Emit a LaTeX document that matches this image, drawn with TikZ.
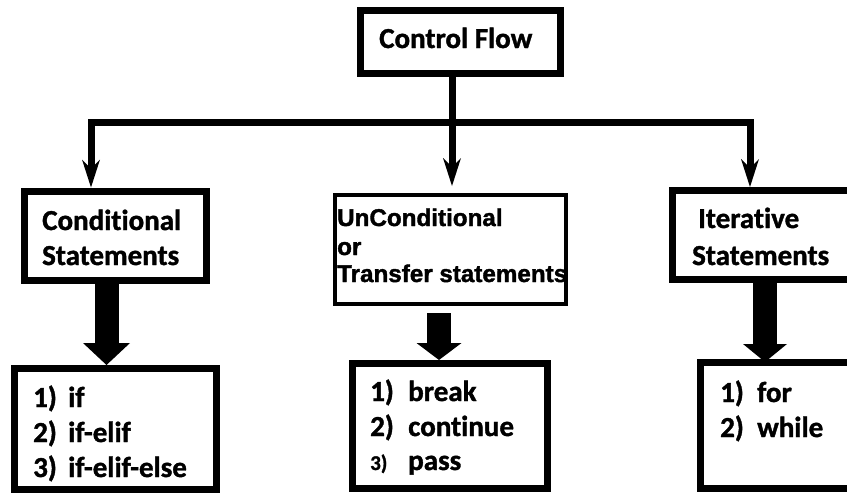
\documentclass[tikz,border=0pt]{standalone}
\usepackage{fontspec}
\setmainfont{Carlito}[Ligatures=NoCommon,BoldFeatures={FakeBold=1.3}]
\newfontfamily\transfont{Liberation Sans}[BoldFeatures={FakeBold=1.6}]
\usetikzlibrary{arrows.meta}
\begin{document}
\begin{tikzpicture}[x=1pt,y=-1pt,
  box/.style={draw,rectangle,line width=7pt,inner sep=0pt},
  wire/.style={line width=7pt},
  wirearrow/.style={line width=7pt,-{Stealth[length=28pt,width=18pt,inset=9pt,line width=0pt]}},
  lbl/.style={anchor=base west,inner sep=0pt,font=\fontsize{29}{35}\selectfont\bfseries},
  tlbl/.style={anchor=base west,inner sep=0pt,font=\transfont\fontsize{24.2}{28}\selectfont\bfseries}]
\useasboundingbox (0,0) rectangle (847,493);
\clip (0,0) rectangle (847,493);

% boxes
\node[box,minimum width=200pt,minimum height=63pt] (root) at (460.5,42) {};
\node[box,minimum width=182pt,minimum height=89pt] (cond) at (115.5,235.5) {};
\node[box,line width=4pt,minimum width=231pt,minimum height=109pt] (uncond) at (450.5,249.5) {};
\node[box,minimum width=207pt,minimum height=89pt] (iter) at (776,235) {};
\node[box,minimum width=202pt,minimum height=121pt] (condL) at (115.5,429) {};
\node[box,minimum width=195pt,minimum height=125pt] (uncondL) at (450,426) {};
\node[box,minimum width=179pt,minimum height=126pt] (iterL) at (790,425.5) {};

% labels
\node[lbl] (rootT) at (379,48) {Control Flow};
\node[lbl] (condT1) at (42,230) {Conditional};
\node[lbl] (condT2) at (42,265) {Statements};
\node[lbl] (iterT1) at (698,228) {Iterative};
\node[lbl] (iterT2) at (692,265) {Statements};
\node[tlbl] (uncondT1) at (337,226) {UnConditional};
\node[tlbl] (uncondT2) at (337,255) {or};
\node[tlbl] (uncondT3) at (337,282) {Transfer statements};

\node[lbl] (condI1) at (33,407) {\makebox[35pt][l]{1)}if};
\node[lbl] (condI2) at (33,442) {\makebox[35pt][l]{2)}if-elif};
\node[lbl] (condI3) at (33,477) {\makebox[35pt][l]{3)}if-elif-else};

\node[lbl] (uncondI1) at (370,401) {\makebox[38pt][l]{1)}break};
\node[lbl] (uncondI2) at (370,436) {\makebox[38pt][l]{2)}continue};
\node[lbl] (uncondI3) at (370,470) {\makebox[38pt][l]{\fontsize{21}{21}\selectfont 3)}pass};

\node[lbl] (iterI1) at (720,402) {\makebox[37pt][l]{1)}for};
\node[lbl] (iterI2) at (720,437) {\makebox[37pt][l]{2)}while};

% branching connectors
\coordinate (busL) at (91,122);
\coordinate (busM) at (452,122);
\coordinate (busR) at (750,122);
\draw[wire] (root.south -| busM) -- (busM);
\draw[wire,line cap=rect] (busL) -- (busR);
\draw[wirearrow] (busL) -- (busL |- cond.north);
\draw[wirearrow] (busM) -- ([yshift=7pt]busM |- uncond.north);
\draw[wirearrow] (busR) -- (busR |- iter.north);

% block arrows to the lists
\draw[line width=24pt, -{Triangle[length=22pt,width=47pt,line width=0pt]}]
  ([xshift=-9pt]cond.south) -- ([xshift=-9pt]cond.south |- condL.north);
\draw[line width=24pt, -{Triangle[length=17pt,width=45pt,line width=0pt]}]
  ([xshift=-11.5pt,yshift=-7pt]uncond.south) -- ([xshift=-11.5pt]uncond.south |- uncondL.north);
\draw[line width=24pt, -{Triangle[length=18pt,width=44pt,line width=0pt]}]
  ([xshift=-11pt]iter.south) -- ([xshift=-11pt,yshift=-3pt]iter.south |- iterL.north);
\end{tikzpicture}
\end{document}
